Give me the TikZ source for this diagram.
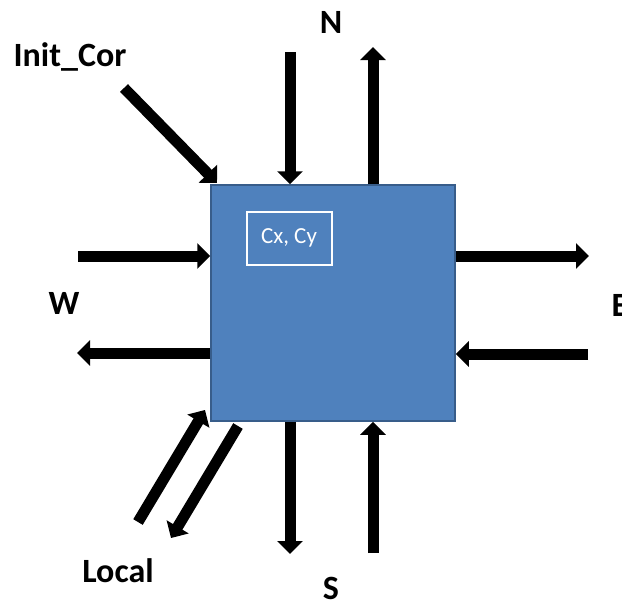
\documentclass[tikz,border=0pt]{standalone}
\usepackage{fontspec}
\setmainfont{Carlito}
\usetikzlibrary{arrows.meta}
\definecolor{boxfill}{HTML}{4F81BD}
\definecolor{boxline}{HTML}{385D8A}
\tikzset{
  fat/.style={line width=11pt, -{Triangle[width=25pt,length=13pt]}},
  lbl/.style={font=\fontsize{34}{38}\selectfont\bfseries, inner sep=0pt},
}
\begin{document}
\begin{tikzpicture}[x=1pt,y=-1pt]
\useasboundingbox (0,0) rectangle (622,603);
\node[draw=boxline, line width=1.5pt, fill=boxfill, minimum width=244pt, minimum height=236pt, inner sep=0pt] (box) at (333,303) {};
\node[draw=white, line width=2pt, minimum width=85pt, minimum height=53pt, inner sep=0pt, text=white, font=\fontsize{23}{26}\selectfont] (c) at (289,238) {Cx, Cy};
% labels
\node[lbl] (N) at (331,22) {N};
\node[lbl] (S) at (331,588) {S};
\node[lbl] (W) at (64,303) {W};
\node[lbl] (E) at (620,305) {E};
\node[lbl] (ic) at (70,57) {Init\_Cor};
\node[lbl] (loc) at (118,571) {Local};
% free ends
\coordinate (nin) at (290,52);
\coordinate (nout) at (373,47);
\coordinate (sout) at (290,554);
\coordinate (sin) at (373,553);
\coordinate (ein) at (588,354);
\coordinate (eout) at (589,256);
\coordinate (win) at (78,256);
\coordinate (wout) at (77,353);
\coordinate (ict) at (124,88);
\coordinate (ich) at (217,183);
\coordinate (lint) at (138,522);
\coordinate (linh) at (205,410);
\coordinate (loutt) at (238,426);
\coordinate (louth) at (171,538);
% arrows
\draw[fat] (nin) -- (nin |- box.north);
\draw[fat] (nout |- box.north) -- (nout);
\draw[fat] (sout |- box.south) -- (sout);
\draw[fat] (sin) -- (sin |- box.south);
\draw[fat] (box.east |- eout) -- (eout);
\draw[fat] (ein) -- (box.east |- ein);
\draw[fat] (win) -- (box.west |- win);
\draw[fat] (box.west |- wout) -- (wout);
\draw[fat] (ict) -- (ich);
\draw[fat] (lint) -- (linh);
\draw[fat] (loutt) -- (louth);
\end{tikzpicture}
\end{document}
